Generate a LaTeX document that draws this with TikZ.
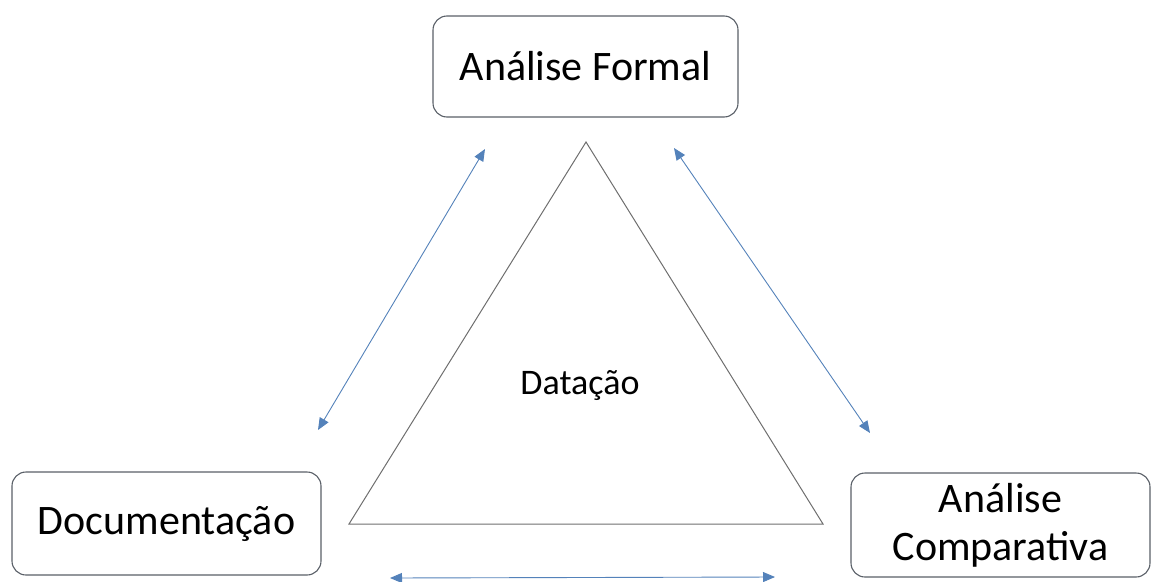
\documentclass[tikz,border=0pt]{standalone}
\usepackage{fontspec}
\setmainfont{Carlito}
\usetikzlibrary{arrows.meta}
\definecolor{arrowblue}{RGB}{84,130,186}
\definecolor{boxline}{RGB}{90,96,104}
\definecolor{triline}{RGB}{110,110,110}
\tikzset{
  roundbox/.style={draw=boxline, line width=1.1pt, rounded corners=14pt, fill=white,
    inner sep=0pt, align=center, font=\fontsize{42}{48}\selectfont},
  link/.style={draw=arrowblue, line width=0.9pt,
    {Triangle[length=12pt,width=10pt]}-{Triangle[length=12pt,width=10pt]}},
  triedge/.style={draw=triline, line width=1pt}
}
\begin{document}
\begin{tikzpicture}[x=1pt,y=-1pt]
\useasboundingbox (0,0) rectangle (1153,581);
% boxes
\node[roundbox, minimum width=305pt, minimum height=101pt] (formal) at (585.5,66.5) {Análise Formal};
\node[roundbox, minimum width=309pt, minimum height=103pt] (doc) at (166.5,523.5) {Documentação};
\node[roundbox, minimum width=299pt, minimum height=104pt] (comp) at (1000.5,525) {Análise\\Comparativa};
% triangle
\coordinate (apex) at (586,142);
\coordinate (bl) at (349,524);
\coordinate (br) at (823,524);
\draw[triedge] (apex) -- (bl) -- (br) -- cycle;
\node[font=\fontsize{36}{38}\selectfont] (dat) at (580,385) {Datação};
% arrow ends
\coordinate (l1) at (318,430);
\coordinate (l2) at (485,149);
\coordinate (r1) at (674,148);
\coordinate (r2) at (870,433);
\coordinate (b1) at (390,578);
\coordinate (b2) at (775,577);
\draw[link] (l1) -- (l2);
\draw[link] (r1) -- (r2);
\draw[link] (b1) -- (b2);
\end{tikzpicture}
\end{document}
